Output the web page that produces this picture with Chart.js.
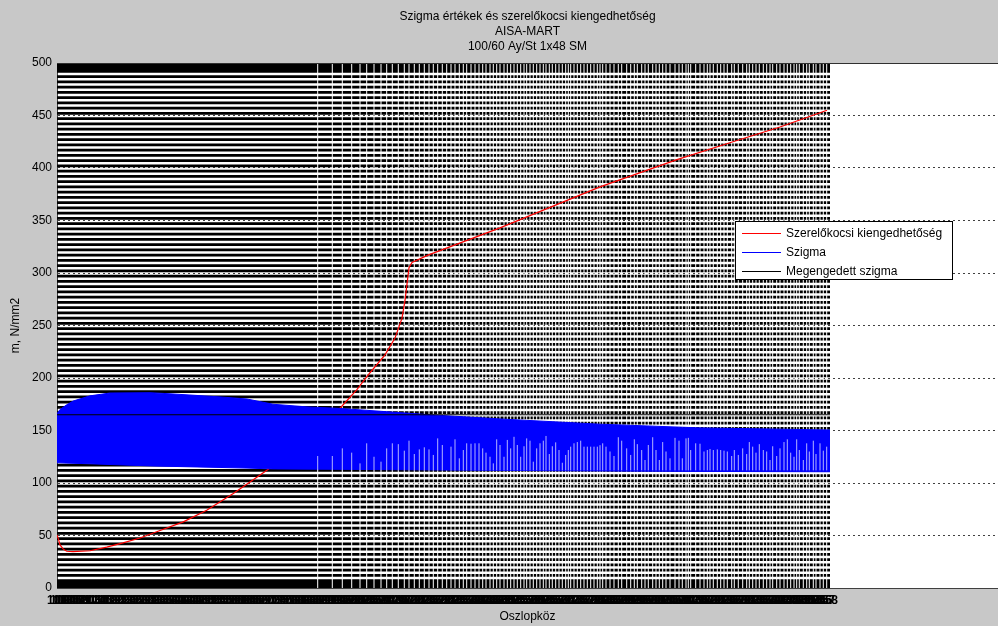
<!DOCTYPE html>
<html><head><meta charset="utf-8">
<script src="https://cdn.jsdelivr.net/npm/chart.js@4.4.1/dist/chart.umd.min.js"></script>
<style>html,body{margin:0;padding:0;background:#c8c8c8;overflow:hidden}</style>
</head><body><canvas id="c" width="998" height="626"></canvas>
<script>
const titleLines = ['Szigma értékek és szerelőkocsi kiengedhetőség', 'AISA-MART', '100/60 Ay/St 1x48 SM'];
const xTitle = 'Oszlopköz';
const yTitle = 'm, N/mm2';
const yMin = 0, yMax = 500, yStep = 50;
const xMin = 0, xMax = 941, xDataEnd = 773;
const legendOrder = ['Szerelőkocsi kiengedhetőség', 'Szigma', 'Megengedett szigma'];

// Szerelőkocsi kiengedhetőség (red)
const redX = [0,1.3,3,6.3,9.7,16,33,49.7,66,83,99.7,126.3,149.7,176.3,193,211.3,282.3,299.7,313,328,338,345,348,352,355,371,443,543,620,676,723,770];
const redY = [50.5,47,41,37,35,34.6,35.5,39,43,47.6,53.6,63,74,90,101,113,170.5,188.6,205,222,238,257,274,305,310,317,343,382,408,425,439,455];

// Szigma (blue band: upper and lower envelope)
const sigmaX = [0,3,9,16,33,53,93,116,163,190,216,250,283,373,443,543,643,773];
const sigmaUpper = [166,170,174,178,183,185.7,186,184.8,182,180,175,172.5,171,165,161,156,152.5,150.5];
const sigmaLower = [119.3,119.2,119,118.8,118.3,117.6,116.3,115.8,114.8,114.2,113.4,113.2,113,112.5,112,111.5,111,110.7];

// Megengedett szigma (black)
const allowedX = [0, 773];
const allowedY = [165, 165];

// background stripe levels
const stripeLevels = [0.5,2,4.5,7,12,17,22,27,32,37,42,47,52,57,62,67,72,77,82,87,92,97,102,107,112,117,122,127,132,137,142,147,152,157,162,167,172,177,182,187,192,197,202,207,212,217,222,227,232,237,242,247,252,257,262,267,272,277,282,287,292,297,302,307,312,317,322,327,332,337,342,347,352,357,362,367,372,377,382,387,392,397,402,407,412,417,422,427,432,437,442,447,452,457,462,467,472,477,482,487,492,494.5,497,499.5];
// vertical gaps and the light streaks inside the blue band (top value of each streak)
const gapX = [260.7,275.3,285.3,294.7,303,309.7,317,324,329.7,335.3,341.3,347.3,352,357.3,362.3,367.3,372,376.3,380.7,385.3,389.7,394,398,402.3,406.3,409.7,414,418,422,425.7,429,433,436.3,439.7,443,447,450.3,453.7,457,460.3,463.7,467,469.7,473,476.3,479.7,483,486.3,489,492.3,495.3,498.7,502,505.3,508.7,511.3,513.7,517,520.3,523.7,527,530.3,533.7,537,540.3,
  543,545.7,549,553,557,561.3,564.7,569.7,573.7,577.3,580.3,584.7,588,591.3,595.7,599,602.3,605.7,609,613,618,622,625.3,629,631.3,633.7,638.7,643,647,650.3,653,656.3,660.3,663.7,667,670.3,674.7,677.3,681.3,685.7,689.7,692.3,695.7,699,702.3,706.3,709.7,713,715.7,719.7,723,727,730.3,733.7,737,739.7,742.3,746.3,749.7,752.3,756.3,759,763,766.3,769.7];
const streakTop = [125.7,125.7,133,128.9,118.7,137.8,125,120.3,133,137.8,137,130.8,140.3,127.6,132,134,132,126.7,142.5,136.2,113,134.6,141.6,123.5,131.4,137.8,137.4,137.8,137.8,133,128.9,125,118.7,141.6,136.2,125,141,133,144,136.2,125,135,142.5,140.3,120.3,133,137.8,140.3,144.8,127.6,135,138.7,131.4,119.3,126.7,131.4,134.6,137.8,139,140.3,134.6,134.6,134.6,134.6,134.6,
  136,137.8,134.6,130,125.7,143.6,140.3,133,126.7,141.6,137,131.4,121.9,136.2,143.6,131.4,121.9,139,130,123.5,143,140.3,123.5,142.5,143,131.4,137.8,137.4,130,131.4,132.4,131.4,132,131.4,130.8,130,125.7,131.4,126.7,133,127.6,139,134.6,128.9,137,131.4,130,121.9,135,125.7,133,139,141.6,128.9,125,141.6,131.4,121.9,137.8,130,140.3,127.6,137.8,130.8,134.6];
const streakBottom = 112;

// x tick positions (dense, labels overlap into a band)
const tickX = [];
for (let v = 0; v <= 771; v += 3) tickX.push(v);
const tickLabels = tickX.map((v, i) => String(101 + i));

const FONT = "'Liberation Sans', Arial, sans-serif";

function pts(xs, ys) { return xs.map((x, i) => ({x: x, y: ys[i]})); }
const stripeData = [];
stripeLevels.forEach(l => { stripeData.push({x: xMin, y: l}, {x: xDataEnd, y: l}, {x: xDataEnd, y: null}); });
const gapData = [];
gapX.forEach(g => { gapData.push({x: g, y: yMin}, {x: g, y: yMax}, {x: g, y: null}); });
const streakData = [];
gapX.forEach((g, i) => { if (streakTop[i] > streakBottom + 1) streakData.push({x: g, y: streakBottom}, {x: g, y: streakTop[i]}, {x: g, y: null}); });

const bgPlugin = {
  id: 'bgLegend',
  beforeDraw(chart) {
    const ctx = chart.ctx, a = chart.chartArea;
    ctx.save();
    ctx.fillStyle = '#c8c8c8';
    ctx.fillRect(0, 0, chart.width, chart.height);
    ctx.fillStyle = '#ffffff';
    ctx.fillRect(a.left, a.top, a.right - a.left, a.bottom - a.top);
    ctx.restore();
  },
  afterDraw(chart) {
    const ctx = chart.ctx, a = chart.chartArea;
    ctx.save();
    ctx.strokeStyle = '#303030';
    ctx.lineWidth = 1;
    ctx.beginPath();
    ctx.moveTo(a.left, Math.round(a.top) + 0.5);
    ctx.lineTo(a.right, Math.round(a.top) + 0.5);
    ctx.stroke();
    // legend
    const items = legendOrder.map(l => chart.data.datasets.find(d => d.label === l));
    const bx = 735.5, by = 221.5, bw = 217, bh = 58, rowH = 19;
    ctx.fillStyle = '#ffffff';
    ctx.fillRect(bx, by, bw, bh);
    ctx.strokeStyle = '#000000';
    ctx.strokeRect(bx, by, bw, bh);
    ctx.font = '12px ' + FONT;
    ctx.textBaseline = 'middle';
    ctx.textAlign = 'left';
    items.forEach((d, i) => {
      const y = by + 11.5 + i * rowH;
      ctx.strokeStyle = d.borderColor;
      ctx.beginPath();
      ctx.moveTo(742, Math.round(y) + 0.5);
      ctx.lineTo(781, Math.round(y) + 0.5);
      ctx.stroke();
      ctx.fillStyle = '#000000';
      ctx.fillText(d.label, 786, y + 0.5);
    });
    ctx.restore();
  }
};

new Chart(document.getElementById('c'), {
  type: 'line',
  data: {
    datasets: [
      {label: 'Megengedett szigma', data: pts(allowedX, allowedY), borderColor: '#000000', borderWidth: 1, pointRadius: 0, order: 0},
      {label: 'streaks', data: streakData, borderColor: 'rgba(200,200,255,0.9)', borderWidth: 1, pointRadius: 0, spanGaps: false, order: 0.5},
      {label: 'Szigma', data: pts(sigmaX, sigmaUpper), borderColor: '#0000ff', backgroundColor: '#0000ff', borderWidth: 1, pointRadius: 0, fill: '+1', order: 1},
      {label: 'Szigma_lower', data: pts(sigmaX, sigmaLower), borderColor: '#0000ff', borderWidth: 1, pointRadius: 0, fill: false, order: 1},
      {label: 'Szerelőkocsi kiengedhetőség', data: pts(redX, redY), borderColor: '#ff0000', borderWidth: 1.2, pointRadius: 0, order: 2},
      {label: 'gaps', data: gapData, borderColor: '#ffffff', borderWidth: 1, pointRadius: 0, spanGaps: false, order: 3},
      {label: 'stripes', data: stripeData, borderColor: '#000000', borderWidth: 2.8, borderCapStyle: 'butt', pointRadius: 0, spanGaps: false, order: 4}
    ]
  },
  options: {
    responsive: false,
    animation: false,
    devicePixelRatio: 1,
    layout: {padding: 0},
    plugins: {
      legend: {display: false},
      tooltip: {enabled: false},
      title: {display: true, text: titleLines, fullSize: false, color: '#000', font: {family: FONT, size: 12, weight: 'normal', lineHeight: 1.25}, padding: {top: 9.5, bottom: 8.5}}
    },
    scales: {
      x: {
        type: 'linear', min: xMin, max: xMax,
        afterFit: s => { s.height = 38; },
        afterBuildTicks: s => { s.ticks = tickX.map(v => ({value: v})); },
        ticks: {autoSkip: false, maxRotation: 0, minRotation: 0, padding: 5, color: '#000', font: {family: FONT, size: 12, weight: 'bold'},
          callback: (v, i) => tickLabels[i]},
        grid: {display: false, drawTicks: false},
        border: {display: true, color: '#404040', width: 1},
        title: {display: true, text: xTitle, color: '#000', font: {family: FONT, size: 12}, padding: {top: 0, bottom: 2}}
      },
      y: {
        type: 'linear', min: yMin, max: yMax,
        afterFit: s => { s.width = 57; },
        ticks: {stepSize: yStep, padding: 5, color: '#000', font: {family: FONT, size: 12}},
        grid: {color: '#404040', lineWidth: 1, drawTicks: false},
        border: {display: true, color: '#404040', width: 1, dash: [2, 3]},
        title: {display: true, text: yTitle, color: '#000', font: {family: FONT, size: 12}, padding: {top: 8, bottom: 0}}
      }
    }
  },
  plugins: [bgPlugin]
});
</script>
</body></html>
